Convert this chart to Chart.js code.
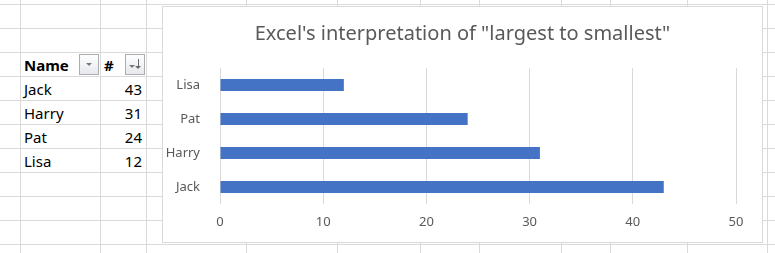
<!DOCTYPE html>
<html>
<head>
<meta charset="utf-8">
<script src="https://cdn.jsdelivr.net/npm/chart.js@4.4.1/dist/chart.umd.min.js"></script>
<style>
  body { margin: 0; width: 775px; height: 253px; overflow: hidden; background: #fff; position: relative;
         font-family: "Noto Sans", sans-serif; }
  .hline { position: absolute; left: 0; width: 775px; height: 1px; background: #dadada; }
  .vline { position: absolute; top: 0; height: 253px; width: 1px; background: #dadada; }
  .cell { position: absolute; height: 24px; line-height: 24px; font-size: 15px; color: #000; white-space: nowrap; }
  .num { text-align: right; }
  .btn { position: absolute; width: 18px; height: 19px; border: 1px solid #abadb3;
         background: linear-gradient(#ffffff, #e6e8ec); }
  .tri { position: absolute; width: 0; height: 0; border-left: 3px solid transparent;
         border-right: 3px solid transparent; border-top: 3px solid #7a7a7a; }
  .arrow { position: absolute; width: 1px; height: 8px; background: #6a6a6a; }
  #chartBox { position: absolute; left: 162px; top: 6px; width: 601px; height: 237px;
              box-sizing: border-box; border: 1px solid #d9d9d9; background: #fff; }
  #chart { position: absolute; left: 0; top: 0; }
</style>
</head>
<body>
<div id="sheet"></div>
<div id="chartBox"><canvas id="chart" width="599" height="235"></canvas></div>
<script>
// data
const names = ["Jack", "Harry", "Pat", "Lisa"];
const counts = [43, 31, 24, 12];
const xTicks = [0, 10, 20, 30, 40, 50];
const chartTitle = 'Excel\'s interpretation of "largest to smallest"';

// spreadsheet grid behind the chart
const rowLines = [4, 28, 52, 76, 100, 124, 148, 172, 196, 220, 244];
const colLines = [20, 100, 146, 246, 337, 420, 479, 561, 610, 687, 767];
const sheet = document.getElementById("sheet");

rowLines.forEach(y => {
  const d = document.createElement("div");
  d.className = "hline";
  d.style.top = y + "px";
  sheet.append(d);
});
colLines.forEach(x => {
  const d = document.createElement("div");
  d.className = "vline";
  d.style.left = x + "px";
  sheet.append(d);
});

function addCell(text, left, top, width, cls, bold){
  const c = document.createElement("div");
  c.className = "cell" + (cls ? " " + cls : "");
  c.style.left = left + "px";
  c.style.top = top + "px";
  c.style.width = width + "px";
  if (bold) c.style.fontWeight = "bold";
  c.textContent = text;
  sheet.append(c);
}

// table header + rows
addCell("Name", 24, 53, 60, "", true);
addCell("#", 104, 53, 20, "", true);
names.forEach((n, i) => {
  addCell(n, 24, 77 + i * 24, 70);
  addCell(String(counts[i]), 102, 77 + i * 24, 40, "num");
});

// filter buttons
function addButton(left, sorted){
  const b = document.createElement("div");
  b.className = "btn";
  b.style.left = left + "px";
  b.style.top = "54px";
  const t = document.createElement("div");
  t.className = "tri";
  if (sorted) {
    t.style.left = "3px"; t.style.top = "10px";
    const a = document.createElement("div");
    a.className = "arrow";
    a.style.left = "12px"; a.style.top = "4px";
    const h = document.createElement("div");
    h.className = "tri";
    h.style.left = "9px"; h.style.top = "11px";
    h.style.borderTopColor = "#6a6a6a";
    b.append(a, h);
  } else {
    t.style.left = "6px"; t.style.top = "8px";
  }
  b.append(t);
  sheet.append(b);
}
addButton(79, false);
addButton(125, true);

// chart
const labelGrey = "#595959";

new Chart(document.getElementById("chart"), {
  type: "bar",
  data: {
    labels: names,
    datasets: [{
      data: counts,
      backgroundColor: "#4472C4",
      barPercentage: 0.36,
      categoryPercentage: 1
    }]
  },
  options: {
    indexAxis: "y",
    responsive: false,
    animation: false,
    layout: { padding: 0 },
    plugins: {
      legend: { display: false },
      tooltip: { enabled: false },
      title: {
        display: true,
        text: chartTitle,
        color: labelGrey,
        font: { family: "Noto Sans", size: 20, weight: "normal" },
        padding: { top: 15, bottom: 22 }
      }
    },
    scales: {
      y: {
        reverse: true,
        grid: { display: false },
        border: { display: false },
        ticks: { color: labelGrey, font: { family: "Noto Sans", size: 13 }, padding: 12 },
        afterFit: s => { s.width = 57; }
      },
      // empty axis on the right, only there to leave the gap Excel leaves
      yRight: {
        position: "right",
        grid: { display: false },
        border: { display: false },
        ticks: { display: false },
        afterFit: s => { s.width = 26; }
      },
      x: {
        min: xTicks[0],
        max: xTicks[xTicks.length - 1],
        grid: { color: "#d9d9d9", drawTicks: false },
        border: { display: false },
        ticks: { stepSize: xTicks[1] - xTicks[0], color: labelGrey,
                 font: { family: "Noto Sans", size: 13 }, padding: 10 },
        afterFit: s => { s.height = 38; }
      }
    }
  }
});
</script>
</body>
</html>
